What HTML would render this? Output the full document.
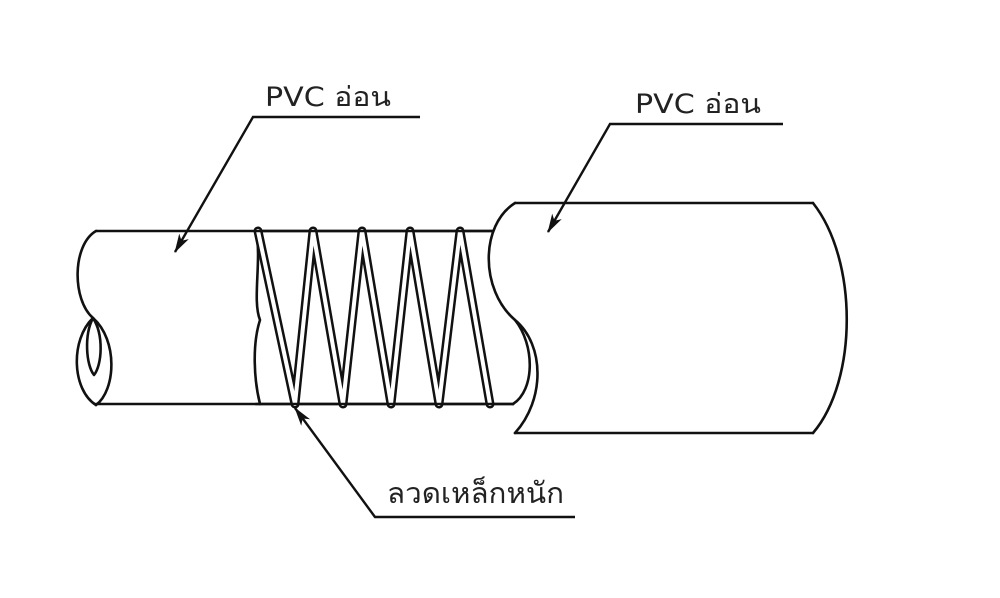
<!DOCTYPE html>
<html><head><meta charset="utf-8">
<style>
html,body{margin:0;padding:0;background:#fff;}
svg{display:block;}
text{font-family:"DejaVu Sans","Liberation Sans",sans-serif;fill:#222;}
</style></head>
<body>
<svg width="1000" height="598" viewBox="0 0 1000 598" xmlns="http://www.w3.org/2000/svg">
<defs>
<marker id="ah" markerWidth="20" markerHeight="12" refX="18" refY="6" orient="auto" markerUnits="userSpaceOnUse" viewBox="0 0 20 12">
<path d="M0,0.5 L19,6 L0,11.5 L5,6 Z" fill="#111"/>
</marker>
</defs>
<g fill="none" stroke="#111" stroke-width="2.6" stroke-linejoin="round" stroke-linecap="round">
<!-- left tube -->
<path d="M96,231 L493,231"/>
<path d="M96,404 L513,404"/>
<path d="M96,231 C72,245 72,300 93,318"/>
<path d="M93,318 C70,340 72,390 96,405"/>
<path d="M93,318 C118,340 116,390 96,405"/>
<path d="M93,318 C84,335 86,365 94,375 C102,365 104,335 93,318"/>
<!-- wavy cut line -->
<path d="M256,231 C262,260 252,300 260,320 C252,345 254,380 260,404"/>
<!-- right tube -->
<path d="M515,203 L813,203"/>
<path d="M515,433 L813,433"/>
<path d="M813,203 C858,260 858,380 813,433"/>
<path d="M515,203 C480,225 480,290 515,320 C545,345 545,400 515,433"/>
<path d="M513,404 C535,390 535,345 515,320"/>
</g>
<!-- spring -->
<g fill="none" stroke-linejoin="round" stroke-linecap="round">
<path d="M258,231 L295,404 L313,231 L343,404 L362,231 L391,404 L410,231 L439,404 L460,231 L490,404" stroke="#111" stroke-width="9"/>
<path d="M258,231 L295,404 L313,231 L343,404 L362,231 L391,404 L410,231 L439,404 L460,231 L490,404" stroke="#fff" stroke-width="4"/>
<path d="M256,231 L493,231 M256,404 L513,404" stroke="#111" stroke-width="2.6"/>
</g>
<!-- leaders -->
<g fill="none" stroke="#111" stroke-width="2.4">
<path d="M420,117 L253,117 L175,252" marker-end="url(#ah)"/>
<path d="M783,124 L610,124 L548,232" marker-end="url(#ah)"/>
<path d="M575,517 L375,517 L295,408" marker-end="url(#ah)"/>
</g>
<text x="265" y="106" font-size="27" textLength="126" lengthAdjust="spacingAndGlyphs">PVC อ่อน</text>
<text x="635" y="113" font-size="27" textLength="126" lengthAdjust="spacingAndGlyphs">PVC อ่อน</text>
<text x="387" y="503" font-size="29" textLength="177" lengthAdjust="spacingAndGlyphs">ลวดเหล็กหนัก</text>
</svg>
</body></html>
